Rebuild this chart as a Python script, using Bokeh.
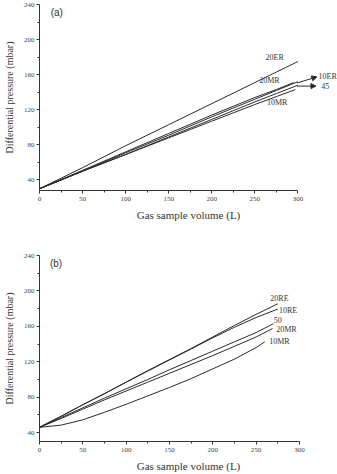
from bokeh.plotting import figure
from bokeh.layouts import column
from bokeh.models import FixedTicker, Label, Arrow, NormalHead, Range1d
from bokeh.embed import file_html
from bokeh.resources import INLINE

# ---------------- data: panel (a) ----------------
x_a = [0, 25, 50, 75, 100, 125, 150, 175, 200, 225, 250, 275, 300]
x_a_20mr = [0, 25, 50, 75, 100, 125, 150, 175, 200, 225, 250, 275, 295]
x_a_10mr = [0, 25, 50, 75, 100, 125, 150, 175, 200, 225, 250, 275, 297]
er20_a = [30, 42, 54, 66.5, 79, 91, 103, 115, 127, 139, 151, 163, 175]
er10_a = [30, 40, 50, 60.5, 71, 81, 91, 101.5, 112, 122, 132, 142, 152]
mr20_a = [30, 40.5, 51, 61.5, 72, 82.5, 93, 103.5, 114, 124, 134, 143, 151]
s45_a = [30, 40, 50, 59.5, 69, 79, 89, 99, 109, 119, 129, 138.5, 148]
mr10_a = [30, 40, 50, 59.5, 69, 78.5, 88, 97.5, 107, 116.5, 126, 135, 143]

# ---------------- data: panel (b) ----------------
x_b_re = [0, 25, 50, 75, 100, 125, 150, 175, 200, 225, 250, 275]
x_b_50 = [0, 25, 50, 75, 100, 125, 150, 175, 200, 225, 250, 270]
x_b_20mr = [0, 25, 50, 75, 100, 125, 150, 175, 200, 225, 250, 269]
x_b_10mr = [0, 25, 50, 75, 100, 125, 150, 175, 200, 225, 250, 260]
re20_b = [46, 58.5, 71.5, 84, 97, 110, 122.5, 135, 148, 161, 173.5, 185.5]
re10_b = [46, 58.5, 71.5, 84, 97, 109.5, 122, 134.5, 147, 159, 170, 179.5]
s50_b = [46, 57, 68, 79, 89.5, 100, 111, 121.5, 132, 142.5, 153, 163]
mr20_b = [46, 56, 66.5, 77, 87, 97, 107, 117, 127, 137.5, 148, 157.5]
mr10_b = [46, 48.5, 54.5, 63, 72, 81.5, 91, 101, 112, 123, 136, 142.5]

x_ticks = [0, 50, 100, 150, 200, 250, 300]
x_minor = [25, 75, 125, 175, 225, 275]
y_ticks = [40, 80, 120, 160, 200, 240]
y_minor = [60, 100, 140, 180, 220]

SERIF = "Liberation Serif"
LINE = "#2a2a2a"


def make_fig(x_end, y_start, top, bottom, left):
    p = figure(width=337, height=237, output_backend="svg", toolbar_location=None,
               x_range=Range1d(0, x_end), y_range=Range1d(y_start, 240),
               min_border_top=top, min_border_bottom=bottom,
               min_border_left=left, min_border_right=0)
    p.outline_line_color = None
    p.grid.visible = False
    p.background_fill_color = "white"
    p.border_fill_color = "white"
    for ax in (p.xaxis[0], p.yaxis[0]):
        ax.axis_line_color = "#333333"
        ax.major_tick_line_color = "#333333"
        ax.minor_tick_line_color = "#333333"
        ax.major_tick_in = 0
        ax.major_tick_out = 3
        ax.minor_tick_in = 0
        ax.minor_tick_out = 2
        ax.major_label_text_font = SERIF
        ax.major_label_text_font_size = "7px"
        ax.major_label_text_color = "#444444"
        ax.axis_label_text_font = SERIF
        ax.axis_label_text_font_style = "normal"
        ax.axis_label_text_color = "#333333"
    p.xaxis[0].ticker = FixedTicker(ticks=x_ticks, minor_ticks=x_minor)
    p.yaxis[0].ticker = FixedTicker(ticks=y_ticks, minor_ticks=y_minor)
    p.xaxis[0].bounds = (0, 300)
    p.xaxis[0].axis_label = "Gas sample volume (L)"
    p.xaxis[0].axis_label_text_font_size = "11px"
    p.xaxis[0].major_label_standoff = 3
    p.xaxis[0].axis_label_standoff = 5
    p.yaxis[0].axis_label = "Differential pressure (mbar)"
    p.yaxis[0].axis_label_text_font_size = "10px"
    p.yaxis[0].major_label_standoff = 2
    p.yaxis[0].axis_label_standoff = 6
    return p


def add_text(p, x, y, t, align="center", size="8px"):
    p.add_layout(Label(x=x, y=y, text=t, text_font=SERIF, text_font_size=size,
                       text_align=align, text_baseline="middle", text_color="#333333"))


# ---------------- panel (a) ----------------
pa = make_fig(346, 28, 4, 47, 36)
for xs, ys in [(x_a, er20_a), (x_a, er10_a), (x_a_20mr, mr20_a), (x_a, s45_a), (x_a_10mr, mr10_a)]:
    pa.line(xs, ys, line_color=LINE, line_width=1)
add_text(pa, 273, 180, "20ER")
add_text(pa, 267, 153, "20MR")
add_text(pa, 276, 128, "10MR")
add_text(pa, 324, 158.5, "10ER", align="left")
add_text(pa, 327, 147, "45", align="left")
pa.add_layout(Arrow(end=NormalHead(size=5, fill_color=LINE, line_color=LINE),
                    x_start=299, y_start=150.5, x_end=322, y_end=157.5,
                    line_color=LINE, line_width=1))
pa.add_layout(Arrow(end=NormalHead(size=5, fill_color=LINE, line_color=LINE),
                    x_start=299, y_start=147, x_end=321, y_end=147,
                    line_color=LINE, line_width=1))
pa.add_layout(Label(x=13, y=231, text="(a)", text_font="Liberation Sans",
                    text_font_size="10px", text_baseline="middle", text_color="#333333"))

# ---------------- panel (b) ----------------
pb = make_fig(344, 30, 18, 32, 37)
for xs, ys in [(x_b_re, re20_b), (x_b_re, re10_b), (x_b_50, s50_b), (x_b_20mr, mr20_b), (x_b_10mr, mr10_b)]:
    pb.line(xs, ys, line_color=LINE, line_width=1)
add_text(pb, 277, 191.5, "20RE")
add_text(pb, 287, 178, "10RE")
add_text(pb, 275, 167, "50")
add_text(pb, 285, 157, "20MR")
add_text(pb, 277, 143, "10MR")
pb.add_layout(Label(x=12, y=231, text="(b)", text_font="Liberation Sans",
                    text_font_size="10px", text_baseline="middle", text_color="#333333"))

layout = column(pa, pb, spacing=0)
open("out.html", "w").write(file_html(layout, INLINE))
